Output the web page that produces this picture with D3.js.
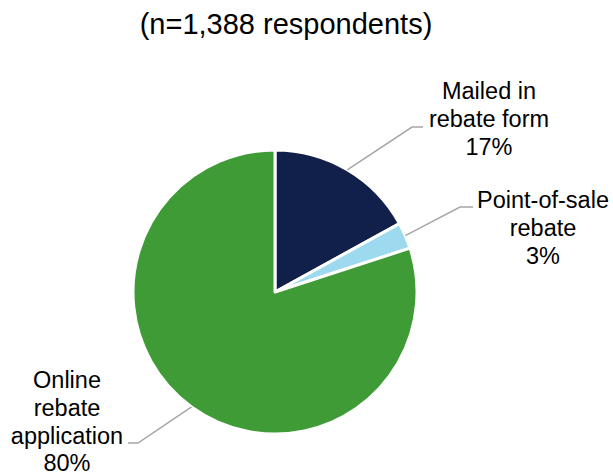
<!DOCTYPE html>
<html><head><meta charset="utf-8">
<script src="https://cdn.jsdelivr.net/npm/d3@7"></script>
<style>body{margin:0;background:#fff}svg{display:block}text{font-family:"Liberation Sans",Arial,sans-serif;fill:#000}</style>
</head><body><svg id="c" width="613" height="476"></svg>
<script>
const title = "(n=1,388 respondents)";
const categories = ["Mailed in rebate form", "Point-of-sale rebate", "Online rebate application"];
const labelLines = [["Mailed in", "rebate form"], ["Point-of-sale", "rebate"], ["Online", "rebate", "application"]];
const values = [17, 3, 80];
const colors = ["#10204a", "#9dd9ef", "#3f9b35"];

// layout: label block centre/first baseline, and leader elbow/end points
const layout = [
  {tx: 489, ty: 99, elbow: [412, 127], end: [423, 127]},
  {tx: 543, ty: 208, elbow: [460, 207], end: [473, 207]},
  {tx: 67, ty: 388, elbow: [138, 443], end: [128, 443]}
];

const svg = d3.select("#c");
const cx = 275, cy = 292, r = 142;

svg.append("text").attr("x", 286).attr("y", 34).attr("text-anchor", "middle")
  .style("font-size", "29px").text(title);

const pie = d3.pie().sort(null).value(d => d)(values);
const arc = d3.arc().innerRadius(0).outerRadius(r);
const g = svg.append("g").attr("transform", `translate(${cx},${cy})`);
g.selectAll("path").data(pie).join("path")
  .attr("d", arc).attr("fill", (d, i) => colors[i])
  .attr("stroke", "#fff").attr("stroke-width", 3).attr("stroke-linejoin", "round");

pie.forEach((d, i) => {
  const a = (d.startAngle + d.endAngle) / 2;
  const sx = cx + r * Math.sin(a), sy = cy - r * Math.cos(a);
  const L = layout[i];
  svg.append("polyline")
    .attr("points", [[sx, sy], L.elbow, L.end].map(p => p.join(",")).join(" "))
    .attr("fill", "none").attr("stroke", "#a6a6a6").attr("stroke-width", 1.5);
  const t = svg.append("text").attr("text-anchor", "middle").style("font-size", "23.5px");
  const lines = labelLines[i].concat([values[i] + "%"]);
  lines.forEach((s, k) => t.append("tspan").attr("x", L.tx).attr("y", L.ty + k * 27.8).text(s));
});
</script></body></html>
